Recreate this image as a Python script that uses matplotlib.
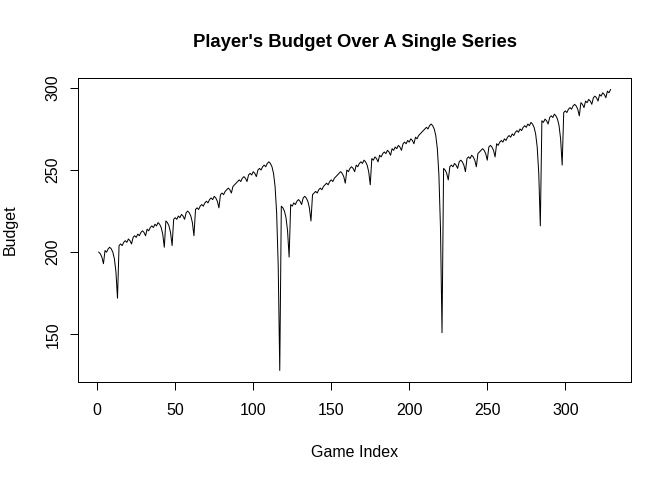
import matplotlib
matplotlib.use("Agg")
import matplotlib.pyplot as plt

# budget after each game
budget = [
    200, 199, 197, 193, 201, 200, 202, 203, 202, 200, 196, 188, 172, 204,
    205, 204, 206, 207, 206, 208, 207, 205, 209, 210, 209, 211, 210, 212, 213,
    212, 210, 214, 213, 215, 216, 215, 217, 216, 218,
    217, 215, 211, 203, 219, 218, 216, 212, 204, 220,
    221, 220, 222, 221, 223, 222, 220, 224, 225, 224, 222, 218, 210, 226,
    227, 226, 228, 229, 228, 230, 231, 230, 232, 233, 232, 234, 233, 231, 227, 235,
    236, 235, 237, 238, 239, 238, 236, 240, 241, 242, 243, 244,
    243, 245, 246, 245, 243, 247, 248, 247, 249, 248, 246, 250, 251, 250, 252,
    253, 252, 254, 255,
    254, 252, 248, 240, 224, 192, 128, 228,
    227, 225, 221, 213, 197, 229,
    228, 230, 229, 231, 232, 231, 229, 233, 234,
    233, 231, 227, 219, 235,
    236, 237, 236, 238, 239, 238, 240, 241, 242, 241, 243, 244, 243, 245, 246,
    247, 248, 249,
    248, 246, 242, 250,
    249, 251, 252, 251, 249, 253, 252, 254, 255, 254, 256,
    255, 253, 249, 241, 257,
    256, 258, 257, 255, 259, 258, 260, 261, 260, 262, 261, 259, 263, 262, 264,
    263, 265, 264, 262, 266, 267, 266, 268, 267, 269, 268, 266, 270, 269, 271,
    272, 273, 274, 275, 276, 275, 277, 278,
    277, 275, 271, 263, 247, 215, 151, 251,
    250, 248, 244, 252,
    253, 252, 254, 253, 251, 255, 256, 255, 253, 249, 257,
    258, 257, 259, 258, 256, 252, 260,
    261, 262, 263, 262, 260, 256, 264,
    265, 264, 262, 258, 266,
    265, 267, 268, 267, 269, 268, 270, 271, 270, 272, 271, 273, 274, 273, 275,
    274, 276, 277, 276, 278, 277, 279,
    278, 276, 272, 264, 248, 216, 280,
    279, 281, 280, 278, 282, 283, 282, 284,
    283, 281, 277, 269, 253, 285,
    286, 285, 287, 288, 287, 289, 290, 289, 287, 283, 291,
    290, 288, 292, 291, 293, 292, 290, 294, 295, 294, 292, 296, 295, 297, 296,
    294, 298, 297, 299,
]
game_index = list(range(1, len(budget) + 1))

x_ticks = [0, 50, 100, 150, 200, 250, 300]
y_ticks = [150, 200, 250, 300]

W, H = 672, 480
plt.rcParams['font.family'] = ['Liberation Sans', 'DejaVu Sans']

fig = plt.figure(figsize=(W / 72, H / 72), dpi=72)
ax = fig.add_axes([78.3 / W, 1 - 381.7 / H, (631 - 78.3) / W, (381.7 - 78.3) / H])

ax.plot(game_index, budget, color="black", lw=1.0)

# R style 4% padding
n = len(budget)
xr = n - 1
ax.set_xlim(1 - 0.04 * xr, n + 0.04 * xr)
lo, hi = min(budget), max(budget)
yr = hi - lo
ax.set_ylim(lo - 0.04 * yr, hi + 0.04 * yr)

ax.set_xticks(x_ticks)
ax.set_yticks(y_ticks)
ax.set_xticklabels([str(v) for v in x_ticks])
ax.set_yticklabels([str(v) for v in y_ticks], rotation=90, va="center")
ax.tick_params(axis="both", length=8, width=1, labelsize=16, color="black")
ax.tick_params(axis="x", pad=13)
ax.tick_params(axis="y", pad=10)
for s in ax.spines.values():
    s.set_linewidth(1)
    s.set_color("black")

fig.text(354.7 / W, 1 - 46.7 / H, "Player's Budget Over A Single Series",
         ha="center", va="baseline", fontsize=18.5, fontweight="bold")
fig.text(354.7 / W, 1 - 456.7 / H, "Game Index", ha="center", va="baseline", fontsize=16)
fig.text(17.3 / W, 1 - 230 / H, "Budget", ha="right", va="center", rotation=90, fontsize=16)

fig.savefig("out.png", dpi=72)
